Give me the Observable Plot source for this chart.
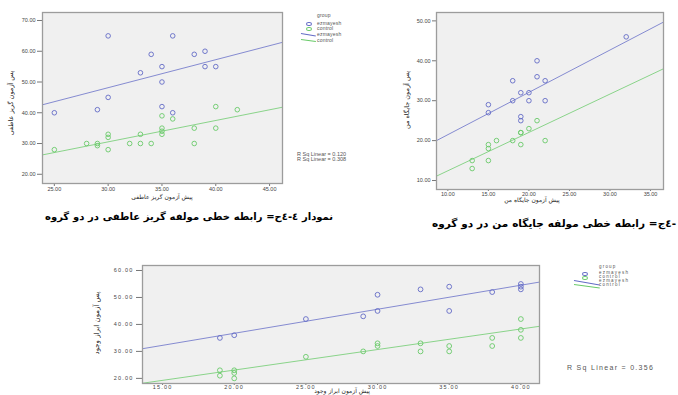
<!DOCTYPE html>
<html><head><meta charset="utf-8">
<script src="https://cdn.jsdelivr.net/npm/d3@7"></script>
<script src="https://cdn.jsdelivr.net/npm/@observablehq/plot@0.6"></script>
<style>
html,body{margin:0;padding:0;background:#fff;width:678px;height:395px;overflow:hidden;position:relative;font-family:"Liberation Sans",Arial,sans-serif;}
.abs{position:absolute;white-space:nowrap;line-height:1;}
.fa{font-family:"DejaVu Sans",sans-serif;}
.capw{position:absolute;white-space:nowrap;font-family:"DejaVu Sans",sans-serif;font-weight:bold;color:#000;line-height:1;text-align:right;}
.lg{position:absolute;white-space:nowrap;line-height:1;color:#555;font-family:"Liberation Sans",Arial,sans-serif;}
.mk{position:absolute;border-radius:50%;box-sizing:border-box;}
.ln{position:absolute;height:0;border-top:1px solid;transform-origin:left center;}
</style></head><body>
<div id="c1" class="abs" style="left:0;top:0"></div>
<div id="c2" class="abs" style="left:380px;top:0"></div>
<div id="c3" class="abs" style="left:90px;top:255px"></div>
<div id="txt"></div>
<script>
// ---------- data ----------
const groups = ["ezmayesh", "control"];
const groupColors = ["#636bc6", "#69ca69"];

// chart 1: emotional escape
const c1XTicks = [25, 30, 35, 40, 45];
const c1YTicks = [20, 30, 40, 50, 60, 70];
const c1XDomain = [23.9, 46.2];
const c1YDomain = [17.0, 72.6];
const c1EzX = [25, 30, 30, 29, 33, 34, 35, 35, 35, 36, 36, 38, 39, 39, 40];
const c1EzY = [40, 65, 45, 41, 53, 59, 55, 50, 42, 65, 40, 59, 60, 55, 55];
const c1CoX = [25, 28, 29, 29, 30, 30, 30, 32, 33, 33, 34, 35, 35, 35, 35, 36, 38, 38, 40, 40, 42];
const c1CoY = [28, 30, 30, 29.3, 33, 32, 28, 30, 33, 30, 30, 39, 35, 34, 33, 38, 35, 30, 42, 35, 41];
const c1FitX = [23.9, 46.2];
const c1FitEz = [42.6, 62.9];
const c1FitCo = [26.3, 41.8];
const c1Rsq = ["R Sq Linear = 0.120", "R Sq Linear = 0.308"];

// chart 2: "my position"
const c2XTicks = [10, 15, 20, 25, 30, 35];
const c2YTicks = [10, 20, 30, 40, 50];
const c2XDomain = [8.6, 36.6];
const c2YDomain = [7.75, 52.1];
const c2EzX = [32, 21, 21, 18, 22, 19, 20, 18, 20, 22, 15, 15, 19, 19];
const c2EzY = [46, 40, 36, 35, 35, 32, 32, 30, 30, 30, 29, 27, 26, 25];
const c2CoX = [21, 20, 19, 19, 18, 16, 22, 19, 15, 15, 15, 13, 13];
const c2CoY = [25, 23, 22, 22, 20, 20, 20, 19, 19, 18, 15, 15, 13];
const c2FitX = [8.6, 36.6];
const c2FitEz = [20.0, 49.7];
const c2FitCo = [11.1, 38.0];

// chart 3
const c3XTicks = [15, 20, 25, 30, 35, 40];
const c3YTicks = [20, 30, 40, 50, 60];
const c3XDomain = [13.6, 41.3];
const c3YDomain = [18.1, 61.85];
const c3EzX = [19, 20, 25, 29, 30, 30, 33, 35, 35, 38, 40, 40, 40];
const c3EzY = [35, 36, 42, 43, 45, 51, 53, 54, 45, 52, 55, 54, 53];
const c3CoX = [19, 19, 20, 20, 20, 25, 29, 30, 30, 33, 33, 35, 35, 38, 38, 40, 40, 40];
const c3CoY = [23, 21, 23, 22, 20, 28, 30, 33, 32, 33, 30, 32, 30, 35, 32, 42, 38, 35];
const c3FitX = [13.6, 41.3];
const c3FitEz = [31.0, 55.7];
const c3FitCo = [18.2, 39.3];
const c3Rsq = "R Sq Linear = 0.356";

// texts
const c1XTitle = "پیش آزمون گریز عاطفی";
const c1YTitle = "پس آزمون گریز عاطفی";
const c2XTitle = "پیش آزمون جایگاه من";
const c2YTitle = "پس آزمون جایگاه من";
const c3XTitle = "پیش آزمون ابراز وجود";
const c3YTitle = "پس آزمون ابراز وجود";
const caption1 = "نمودار ٤-٤ح= رابطه خطی مولفه گریز عاطفی در دو گروه";
const caption2 = "-٤ج= رابطه خطی مولفه جایگاه من در دو گروه";

// ---------- build ----------
function pts(ex, ey, cx, cy) {
  return ex.map((x, i) => ({x, y: ey[i], g: groups[0]}))
    .concat(cx.map((x, i) => ({x, y: cy[i], g: groups[1]})));
}
function fit(fx, fe, fc) {
  return fx.map((x, i) => ({x, y: fe[i], g: groups[0]}))
    .concat(fx.map((x, i) => ({x, y: fc[i], g: groups[1]})));
}
function scatter(o) {
  return Plot.plot({
    width: o.width, height: o.height,
    marginLeft: o.ml, marginRight: o.mr, marginTop: o.mt, marginBottom: o.mb,
    style: {background: "transparent", fontFamily: "Liberation Sans, Arial, sans-serif",
      fontSize: o.fs + "px", letterSpacing: o.ls || "0px", color: "#444", overflow: "visible"},
    x: {domain: o.xd},
    y: {domain: o.yd},
    color: {domain: groups, range: groupColors},
    marks: [
      Plot.frame({fill: "#f0f0f0"}),
      Plot.axisX({ticks: o.xt, tickFormat: d3.format(".2f"), tickSize: o.xts, tickPadding: o.xtp, fontSize: o.fs, label: null, stroke: "#777"}),
      Plot.axisY({ticks: o.yt, tickFormat: d3.format(".2f"), tickSize: o.yts, tickPadding: o.ytp, fontSize: o.fs, label: null, stroke: "#777"}),
      Plot.line(o.fit, {x: "x", y: "y", z: "g", stroke: "g", strokeWidth: 0.9, strokeOpacity: 0.85}),
      Plot.dot(o.pts, {x: "x", y: "y", stroke: "g", r: o.r, strokeWidth: 0.9}),
      Plot.frame({stroke: "#9c9c9c", strokeWidth: 1.3})
    ]
  });
}

document.getElementById("c1").append(scatter({
  width: 290, height: 205, ml: 42, mr: 8, mt: 12, mb: 22, fs: 5.5,
  xd: c1XDomain, yd: c1YDomain, xt: c1XTicks, yt: c1YTicks,
  xts: 3, xtp: 1, yts: 5, ytp: 2, r: 2.3,
  pts: pts(c1EzX, c1EzY, c1CoX, c1CoY), fit: fit(c1FitX, c1FitEz, c1FitCo)
}));
document.getElementById("c2").append(scatter({
  width: 298, height: 210, ml: 56, mr: 15, mt: 12, mb: 21, fs: 5.5,
  xd: c2XDomain, yd: c2YDomain, xt: c2XTicks, yt: c2YTicks,
  xts: 2, xtp: 1, yts: 4, ytp: 2, r: 2.3,
  pts: pts(c2EzX, c2EzY, c2CoX, c2CoY), fit: fit(c2FitX, c2FitEz, c2FitCo)
}));
document.getElementById("c3").append(scatter({
  width: 460, height: 140, ml: 52, mr: 11, mt: 10, mb: 12, fs: 5.5, ls: "1.2px",
  xd: c3XDomain, yd: c3YDomain, xt: c3XTicks, yt: c3YTicks,
  xts: 2, xtp: 0, yts: 6, ytp: 3, r: 2.4,
  pts: pts(c3EzX, c3EzY, c3CoX, c3CoY), fit: fit(c3FitX, c3FitEz, c3FitCo)
}));

// ---------- text & legends ----------
const T = document.getElementById("txt");
function add(html) { T.insertAdjacentHTML("beforeend", html); }
function title(text, cx, cy, fs, rot) {
  add(`<div class="abs fa" dir="rtl" style="left:${cx}px;top:${cy}px;font-size:${fs}px;color:#222;transform:translate(-50%,-50%)${rot ? " rotate(-90deg)" : ""}">${text}</div>`);
}
title(c1XTitle, 162, 197, 6, false);
title(c1YTitle, 11, 103, 6.5, true);
title(c2XTitle, 532, 200, 6, false);
title(c2YTitle, 407, 100, 6.5, true);
title(c3XTitle, 342, 391, 6, false);
title(c3YTitle, 97, 323, 7, true);

// captions: right-to-left text, right edge fixed, word spacing adjusted to span the measured width
function caption(text, right, top, width, fs) {
  const d = document.createElement("div");
  d.className = "capw";
  d.dir = "rtl";
  d.style.fontSize = fs + "px";
  d.style.top = top + "px";
  d.style.right = (678 - right) + "px";
  d.textContent = text;
  T.append(d);
  const w = d.getBoundingClientRect().width;
  const n = text.split(" ").length - 1;
  d.style.wordSpacing = Math.max(0, (width - w) / n).toFixed(2) + "px";
}
caption(caption1, 333, 212, 288, 10);
caption(caption2, 676, 218, 244, 10.5);

// legends
function legend(x0, y0, fs, ls, dy, mx, lnx, lnw) {
  const labels = ["group", groups[0], groups[1], groups[0], groups[1]];
  labels.forEach((t, i) => add(`<div class="lg" style="left:${x0}px;top:${y0 + dy[i]}px;font-size:${fs}px;letter-spacing:${ls}px">${t}</div>`));
  add(`<div class="mk" style="left:${mx}px;top:${y0 + dy[1] + 0.5}px;width:6px;height:4.5px;border:1px solid ${groupColors[0]}"></div>`);
  add(`<div class="mk" style="left:${mx}px;top:${y0 + dy[2] + 0.5}px;width:6px;height:4.5px;border:1px solid ${groupColors[1]}"></div>`);
  add(`<div class="ln" style="left:${lnx}px;top:${y0 + dy[3] + 1}px;width:${lnw}px;border-color:${groupColors[0]};transform:rotate(10deg)"></div>`);
  add(`<div class="ln" style="left:${lnx}px;top:${y0 + dy[4] + 1}px;width:${lnw}px;border-color:${groupColors[1]};transform:rotate(8deg)"></div>`);
}
legend(317, 13, 5, 0.2, [0, 8, 13, 19, 25], 306, 301, 15);
legend(599, 265, 4.5, 1.2, [0, 6, 10, 14, 18], 582, 574, 26);

c1Rsq.forEach((t, i) => add(`<div class="lg" style="left:297px;top:${152 + i * 5}px;font-size:5.5px">${t}</div>`));
add(`<div class="lg" style="left:567px;top:364px;font-size:7px;letter-spacing:1.3px">${c3Rsq}</div>`);
</script>
</body></html>
